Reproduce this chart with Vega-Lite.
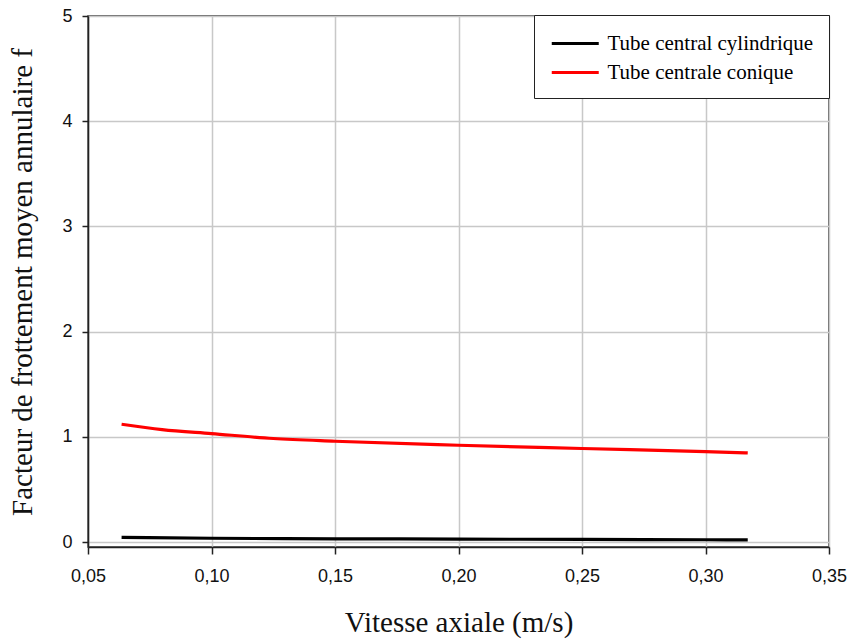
{
  "$schema": "https://vega.github.io/schema/vega-lite/v6.json",
  "width": 741,
  "height": 531,
  "autosize": {"type": "none"},
  "padding": {"left": 88, "top": 16, "right": 24, "bottom": 94},
  "background": "white",
  "config": {
    "view": {"stroke": "#333", "strokeWidth": 1.5},
    "axis": {
      "labelFont": "Liberation Sans",
      "labelFontSize": 18,
      "labelColor": "#111",
      "titleFont": "Liberation Serif",
      "titleFontSize": 29,
      "titleFontWeight": "normal",
      "titleColor": "#111",
      "gridColor": "#c8c8c8",
      "gridWidth": 1.5,
      "domainColor": "#222",
      "domainWidth": 1.5,
      "tickColor": "#222",
      "tickWidth": 1.5
    }
  },
  "data": {
    "values": [
      {"serie": "Tube central cylindrique", "v": 0.0636, "f": 0.045},
      {"serie": "Tube central cylindrique", "v": 0.10, "f": 0.036},
      {"serie": "Tube central cylindrique", "v": 0.15, "f": 0.031},
      {"serie": "Tube central cylindrique", "v": 0.20, "f": 0.028},
      {"serie": "Tube central cylindrique", "v": 0.25, "f": 0.025},
      {"serie": "Tube central cylindrique", "v": 0.30, "f": 0.022},
      {"serie": "Tube central cylindrique", "v": 0.3171, "f": 0.021},
      {"serie": "Tube centrale conique", "v": 0.0636, "f": 1.12},
      {"serie": "Tube centrale conique", "v": 0.08, "f": 1.069},
      {"serie": "Tube centrale conique", "v": 0.10, "f": 1.031},
      {"serie": "Tube centrale conique", "v": 0.125, "f": 0.984},
      {"serie": "Tube centrale conique", "v": 0.15, "f": 0.958},
      {"serie": "Tube centrale conique", "v": 0.20, "f": 0.920},
      {"serie": "Tube centrale conique", "v": 0.25, "f": 0.889},
      {"serie": "Tube centrale conique", "v": 0.30, "f": 0.860},
      {"serie": "Tube centrale conique", "v": 0.3171, "f": 0.847}
    ]
  },
  "mark": {"type": "line", "strokeWidth": 3.2, "interpolate": "monotone"},
  "encoding": {
    "x": {
      "field": "v",
      "type": "quantitative",
      "scale": {"domain": [0.05, 0.35], "nice": false},
      "axis": {
        "title": "Vitesse axiale (m/s)",
        "titleFont": "Liberation Serif",
        "titleFontSize": 29,
        "titleFontWeight": "normal",
        "values": [0.05, 0.1, 0.15, 0.2, 0.25, 0.3, 0.35],
        "labelExpr": "replace(format(datum.value, '.2f'), '.', ',')",
        "tickSize": 7,
        "labelPadding": 13,
        "titlePadding": 23,
        "labelFlush": false
      }
    },
    "y": {
      "field": "f",
      "type": "quantitative",
      "scale": {"domain": [-0.047, 5], "nice": false, "zero": false},
      "axis": {
        "title": "Facteur de frottement moyen annulaire f",
        "titleFont": "Liberation Serif",
        "titleFontSize": 29,
        "titleFontWeight": "normal",
        "values": [0, 1, 2, 3, 4, 5],
        "format": "d",
        "tickSize": 6,
        "labelPadding": 10,
        "titlePadding": 24,
        "labelFlush": false
      }
    },
    "color": {
      "field": "serie",
      "type": "nominal",
      "scale": {
        "domain": ["Tube central cylindrique", "Tube centrale conique"],
        "range": ["#000000", "#ff0000"]
      },
      "legend": {
        "title": null,
        "orient": "none",
        "legendX": 446,
        "legendY": -1,
        "symbolType": "M-2,0H2",
        "symbolSize": 552,
        "symbolStrokeWidth": 3,
        "symbolOffset": 12.75,
        "labelFont": "Liberation Serif",
        "labelFontSize": 21,
        "labelColor": "#000",
        "labelOffset": 18.75,
        "rowPadding": 5,
        "padding": 15,
        "strokeColor": "#222",
        "fillColor": "white",
        "labelLimit": 400
      }
    }
  }
}
